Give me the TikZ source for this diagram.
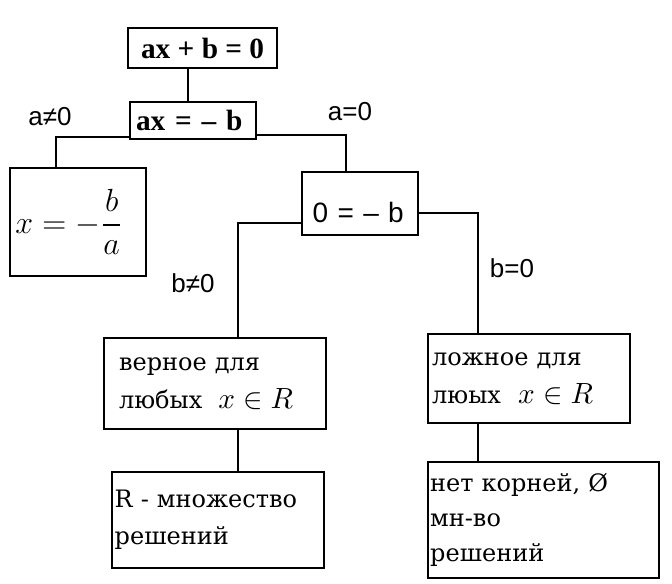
\documentclass[tikz,border=0pt]{standalone}
\usepackage{amsmath}
\usepackage{fontspec}
\setmainfont{Liberation Serif}
\setsansfont{Liberation Sans}
\newfontfamily\boxfont{DejaVu Serif}
\usetikzlibrary{positioning}

\tikzset{
  box/.style={draw, line width=0.8pt, anchor=north west, inner ysep=0pt},
  txtbox/.style={box, align=left, font=\fontsize{9}{14}\boxfont},
  cond/.style={font=\fontsize{9.75}{12}\sffamily, inner sep=0pt},
  link/.style={line width=0.8pt}
}

\begin{document}
\begin{tikzpicture}[x=0.375pt, y=-0.375pt]

  \useasboundingbox (0,0) rectangle (672,584);

  % vergelijkingen
  \node[box, minimum width=55.9pt, minimum height=15pt, inner xsep=0pt,
        font=\fontsize{11}{13}\bfseries]
    (eqA) at (127,27) {ax + b = 0};
  \node[box, minimum width=47.25pt, minimum height=13.9pt, inner xsep=2.25pt,
        text width=42.75pt, align=left, font=\fontsize{11}{13}\bfseries]
    (eqB) at (129,101) {ax = – b};
  \node[box, minimum width=51pt, minimum height=40.5pt, inner xsep=2pt,
        text width=47pt, align=left, font=\fontsize{12}{14}\selectfont]
    (solA) at (9,167) {$x=-\dfrac{b}{\vphantom{A}a}$};
  \node[box, minimum width=43.5pt, minimum height=23.6pt, inner xsep=4pt,
        text width=35.5pt, align=left, font=\fontsize{10.5}{13}\sffamily]
    (eqC) at (301,171) {\raisebox{-7pt}[0pt][0pt]{0 = – b}};

  % gevallen
  \node[txtbox, minimum width=83.25pt, minimum height=34.1pt, inner xsep=5.6pt,
        text width=72pt]
    (allX) at (103,337) {верное для\\любых\hspace{3pt} {\fontsize{11}{14}\selectfont$x\in R$}};
  \node[txtbox, minimum width=75.75pt, minimum height=33.4pt, inner xsep=1.5pt,
        text width=72.7pt]
    (noneX) at (427,333) {ложное для\\люых\hspace{3.5pt} {\fontsize{11}{14}\selectfont$x\in R$}};
  \node[txtbox, minimum width=79.5pt, minimum height=36pt, inner xsep=1pt,
        text width=77.5pt]
    (allSet) at (111,471) {R - множество\\решений};
  \node[txtbox, minimum width=86.6pt, minimum height=43.5pt, inner xsep=0.8pt,
        text width=85pt, font=\fontsize{9}{13.2}\boxfont]
    (emptySet) at (427,461) {нет корней, Ø\\мн-во\\решений};

  % voorwaarden
  \node[cond] (condA) at (50,117) {a≠0};
  \node[cond] (condB) at (350,112) {a=0};
  \node[cond] (condC) at (193,283) {b≠0};
  \node[cond] (condD) at (512,268) {b=0};

  % verbindingen
  \draw[link] ([shift={(-14.5,0)}]eqA.south)
    -- ([shift={(-14.5,0)}]eqA.south |- eqB.north);
  \draw[link] ([shift={(0,-3)}]eqB.south west) -| ([shift={(-22,0)}]solA.north);
  \draw[link] ([shift={(0,-5)}]eqB.south east) -| ([shift={(-14,0)}]eqC.north);
  \draw[link] ([shift={(0,-13)}]eqC.south west) -| ([shift={(23,0)}]allX.north);
  \draw[link] ([shift={(0,-23)}]eqC.south east) -| ([shift={(-51,0)}]noneX.north);
  \draw[link] ([shift={(23,0)}]allX.south)
    -- ([shift={(23,0)}]allX.south |- allSet.north);
  \draw[link] ([shift={(-51,0)}]noneX.south)
    -- ([shift={(-51,0)}]noneX.south |- emptySet.north);

\end{tikzpicture}
\end{document}
